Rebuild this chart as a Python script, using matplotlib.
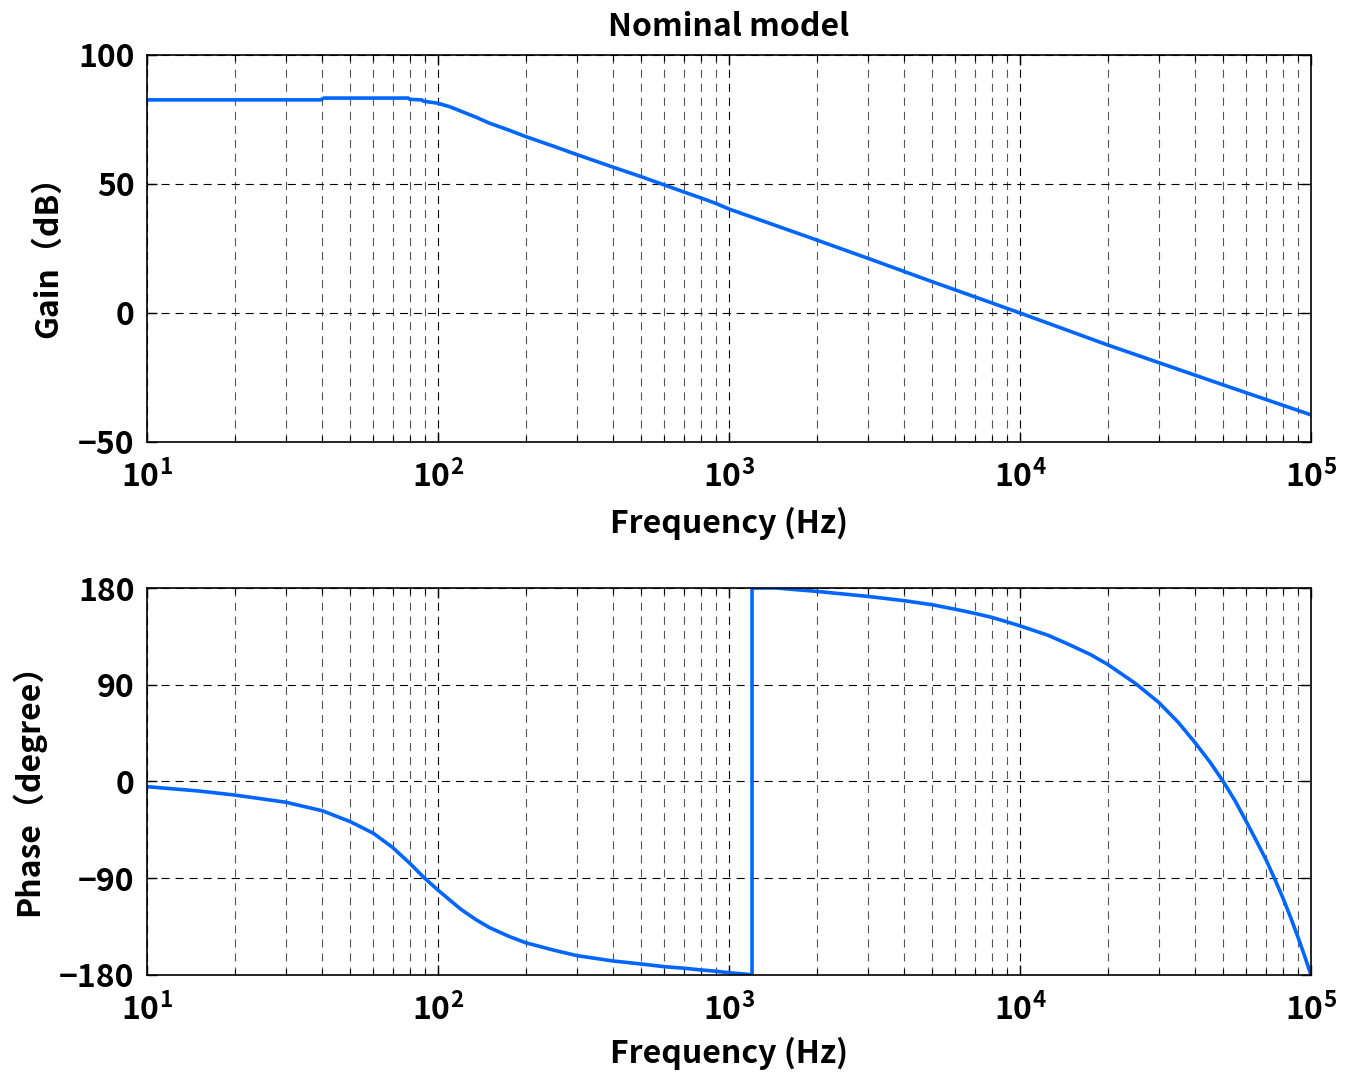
import matplotlib
matplotlib.use("Agg")
import matplotlib.pyplot as plt
from matplotlib.ticker import LogLocator, NullFormatter

# ---- fonts -------------------------------------------------------------
plt.rcParams["font.family"] = ["Noto Sans CJK JP", "DejaVu Sans"]
plt.rcParams["font.weight"] = "bold"
plt.rcParams["mathtext.fontset"] = "custom"
plt.rcParams["mathtext.rm"] = "Noto Sans CJK JP:bold"
plt.rcParams["mathtext.bf"] = "Noto Sans CJK JP:bold"
plt.rcParams["mathtext.it"] = "Noto Sans CJK JP:bold"
plt.rcParams["mathtext.default"] = "rm"
plt.rcParams["lines.scale_dashes"] = False

# ---- data --------------------------------------------------------------
gain_freq = [10, 39.5, 40.5, 79, 80, 88, 89, 100, 110, 120, 135, 150, 175,
             200, 250, 300, 400, 500, 600, 700, 800, 900, 1000, 2000, 3000,
             5000, 10000, 20000, 50000, 100000]
gain_db = [82.6, 82.6, 83.3, 83.3, 82.8, 82.6, 82.1, 81.3, 79.9, 78.2, 75.9,
           73.6, 70.9, 68.4, 64.6, 61.4, 56.5, 52.8, 49.6, 46.9, 44.6, 42.5,
           40.3, 28.3, 21.2, 12.1, 0.0, -12.4, -27.9, -39.5]

phase_freq = [10, 15, 20, 30, 40, 50, 60, 70, 80, 90, 100, 110, 120, 135, 150,
              175, 200, 250, 300, 400, 500, 600, 700, 800, 900, 1000, 1150,
              1200, 1200, 1450, 2000, 3000, 4000, 5000, 6000, 7000, 8000, 9000,
              10000, 12500, 15000, 17500, 20000, 25000, 30000, 35000, 40000,
              45000, 50000, 55000, 60000, 65000, 70000, 75000, 80000, 85000,
              90000, 95000, 100000]
phase_deg = [-4.8, -8.8, -12.6, -19.3, -27.2, -37.4, -48.2, -61.6, -76.1,
             -90.0, -101.0, -110.5, -119.0, -128.5, -135.8, -144.0, -150.0,
             -156.9, -162.0, -167.0, -169.8, -172.3, -173.7, -175.3, -176.5,
             -177.9, -179.3, -180.0, 180.0, 180.0, 176.9, 172.2, 168.2, 164.4,
             160.2, 156.4, 152.7, 148.6, 144.8, 136.0, 126.5, 118.0, 109.0,
             91.0, 73.5, 55.0, 36.0, 18.0, -0.2, -18.5, -37.5, -55.5, -72.5,
             -90.5, -108.0, -126.0, -144.0, -162.0, -180.0]

freq_ticks = [1e1, 1e2, 1e3, 1e4, 1e5]
freq_tick_labels = [r"$10^{1}$", r"$10^{2}$", r"$10^{3}$", r"$10^{4}$", r"$10^{5}$"]
gain_ticks = [-50, 0, 50, 100]
phase_ticks = [-180, -90, 0, 90, 180]

LINE_COLOR = "#0066ff"
FS = 23

fig = plt.figure(figsize=(13.45, 10.74), dpi=100)
ax1 = fig.add_axes([0.1093, 0.5885, 0.8654, 0.3603])
ax2 = fig.add_axes([0.1093, 0.0922, 0.8654, 0.3603])


def style_axis(ax, yticks):
    ax.set_xscale("log")
    ax.set_xlim(10, 1e5)
    ax.set_xticks(freq_ticks, freq_tick_labels)
    ax.xaxis.set_minor_locator(LogLocator(base=10, subs=range(2, 10), numticks=50))
    ax.xaxis.set_minor_formatter(NullFormatter())
    ax.set_yticks(yticks)
    ax.set_ylim(yticks[0], yticks[-1])
    ax.grid(True, which="major", color="black", linewidth=0.8,
            linestyle=(0, (5.8, 4.3)))
    ax.grid(True, which="minor", axis="x", color="#555555", linewidth=0.8,
            linestyle=(0, (5.8, 4.3)))
    ax.tick_params(axis="both", which="both", direction="in", top=True,
                   right=True, labelsize=FS)
    ax.tick_params(axis="x", which="major", pad=13)
    ax.tick_params(axis="y", which="major", pad=9)
    ax.tick_params(axis="both", which="major", length=7, width=1)
    ax.tick_params(axis="both", which="minor", length=4, width=0.8)
    for s in ax.spines.values():
        s.set_linewidth(1.2)
    ax.set_axisbelow(True)


ax1.plot(gain_freq, gain_db, color=LINE_COLOR, linewidth=2.6)
style_axis(ax1, gain_ticks)
ax1.set_title("Nominal model", fontsize=FS, fontweight="bold", pad=14)
ax1.set_xlabel("Frequency (Hz)", fontsize=FS, fontweight="bold", labelpad=9)
ax1.set_ylabel("Gain（dB）", fontsize=FS, fontweight="bold", labelpad=10)

ax2.plot(phase_freq, phase_deg, color=LINE_COLOR, linewidth=2.6)
style_axis(ax2, phase_ticks)
ax2.set_xlabel("Frequency (Hz)", fontsize=FS, fontweight="bold", labelpad=7)
ax2.set_ylabel("Phase（degree）", fontsize=FS, fontweight="bold", labelpad=10)

fig.savefig("out.png", dpi=100)
